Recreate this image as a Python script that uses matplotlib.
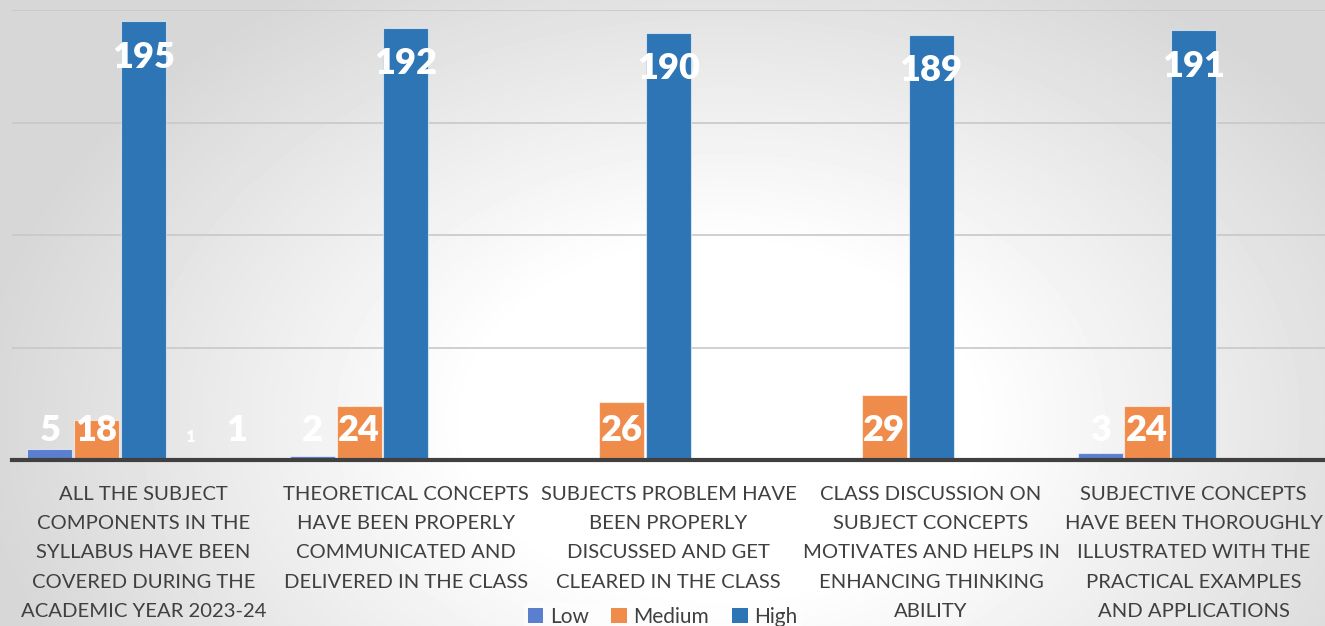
import numpy as np
import matplotlib.pyplot as plt
from matplotlib.patches import Patch

plt.rcParams['font.family'] = ['Lato', 'DejaVu Sans']

# Data
categories = [
    "ALL THE SUBJECT\nCOMPONENTS IN THE\nSYLLABUS HAVE BEEN\nCOVERED DURING THE\nACADEMIC YEAR 2023-24",
    "THEORETICAL CONCEPTS\nHAVE BEEN PROPERLY\nCOMMUNICATED AND\nDELIVERED IN THE CLASS",
    "SUBJECTS PROBLEM HAVE\nBEEN PROPERLY\nDISCUSSED AND GET\nCLEARED IN THE CLASS",
    "CLASS DISCUSSION ON\nSUBJECT CONCEPTS\nMOTIVATES AND HELPS IN\nENHANCING THINKING\nABILITY",
    "SUBJECTIVE CONCEPTS\nHAVE BEEN THOROUGHLY\nILLUSTRATED WITH THE\nPRACTICAL EXAMPLES\nAND APPLICATIONS",
]
low = [5, 2, 1, 0, 3]
medium = [18, 24, 26, 29, 24]
high = [195, 192, 190, 189, 191]
extra1 = [1, 0, 0, 0, 0]   # unnamed series, bars not visible
extra2 = [1, 0, 0, 0, 0]

series = [("Low", low, "#5b7fcf"), ("Medium", medium, "#ef8c4c"),
          ("High", high, "#2e75b6"), ("", extra1, "#ffffff"),
          ("", extra2, "#ffffff")]

fig = plt.figure(figsize=(13.25, 6.26), dpi=100)

# background gradient
bg = fig.add_axes([0, 0, 1, 1], zorder=-10)
yy, xx = np.mgrid[0:626, 0:1325]
d = np.sqrt(((xx - 720) / 750.0) ** 2 + ((yy - 420) / 520.0) ** 2)
g = np.clip(1.08 - 0.24 * d, 0.84, 1.0)
bg.imshow(g, cmap='gray', vmin=0, vmax=1, aspect='auto', extent=[0, 1, 0, 1])
bg.axis('off')

ax = fig.add_axes([12 / 1325, 166 / 626, 1313 / 1325, 450 / 626])
ax.patch.set_alpha(0)

x = np.arange(len(categories))
step = 0.178
w = 0.172
for i, (name, vals, col) in enumerate(series):
    pos = x + (i - 2) * step
    ax.bar(pos, vals, width=w, color=col, edgecolor=(1, 1, 1, 0.6),
           linewidth=0.8, zorder=3)
    for px, v in zip(pos, vals):
        if v == 0:
            continue
        if i == 3:
            ax.text(px, 10, str(v), ha='center', va='center', color='white',
                    fontsize=12, fontweight='heavy', zorder=4)
            continue
        yl = v - 16 if v - 16 >= 13 else 13
        ax.text(px, yl, str(v), ha='center', va='center', color='white',
                fontsize=26, fontweight='heavy', zorder=4)

ax.set_ylim(0, 200)
ax.set_xlim(-0.5, 4.5)
ax.set_yticks([50, 100, 150, 200])
ax.yaxis.grid(True, color='#c8c8c8', linewidth=1.2, zorder=0)
ax.tick_params(axis='y', left=False, labelleft=False)
ax.set_xticks(x)
ax.set_xticklabels(categories, fontsize=14.6, color='#404040')
for lab in ax.get_xticklabels():
    lab.set_linespacing(1.86)
ax.tick_params(axis='x', length=0, pad=19)
for s in ['top', 'right', 'left']:
    ax.spines[s].set_visible(False)
ax.spines['bottom'].set_color('#404040')
ax.spines['bottom'].set_linewidth(3)
ax.spines['bottom'].set_zorder(5)

handles = [Patch(facecolor=c, label=n) for n, _, c in series[:3]]
leg = fig.legend(handles=handles, loc='center', bbox_to_anchor=(0.5, 0.015),
                 ncol=3, fontsize=15, frameon=True, handlelength=0.75,
                 handleheight=0.75, handletextpad=0.3, columnspacing=1.1,
                 borderpad=0.2)
leg.get_frame().set_facecolor('white')
leg.get_frame().set_alpha(0.5)
leg.get_frame().set_edgecolor('none')
for t in leg.get_texts():
    t.set_color('#404040')

fig.savefig('out.png', dpi=100)
